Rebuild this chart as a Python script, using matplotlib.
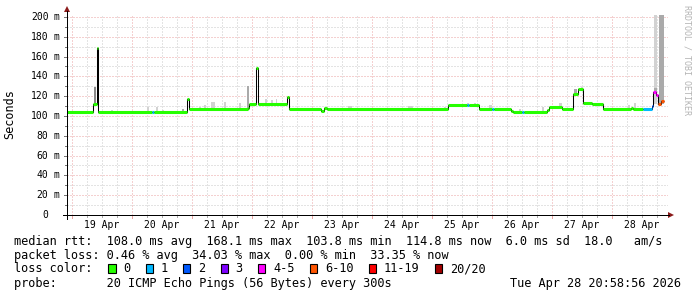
import numpy as np
import matplotlib
matplotlib.use("Agg")
import matplotlib.pyplot as plt
from matplotlib.lines import Line2D
from matplotlib.patches import Polygon, Rectangle

W, H = 697, 297

# median rtt as steps; hours counted from 19 Apr 00:00
seg_start = [-2.0, 8.5, 9.8, 10.5, 31.9, 32.6, 46.1, 46.8, 70.3, 70.8, 73.5, 74.5,
             85.9, 86.8, 99.6, 100.8, 102.0, 150.4, 158.0, 158.8, 162.8, 168.0, 168.8,
             175.6, 176.5, 180.0, 180.8, 189.9, 190.8, 195.9, 200.5, 202.5, 204.5,
             207.9, 212.5, 223.6, 224.4, 228.5, 231.9, 232.5, 233.6, 234.4, 235.6]
seg_last_end = 236.6
median_ms = [103.7, 112.0, 168.2, 103.7, 103.7, 103.7, 117.0, 106.8, 108.4, 111.8, 148.0, 111.8,
             118.9, 106.8, 105.0, 108.4, 106.8, 111.1, 111.1, 111.1, 106.8, 106.8, 106.8,
             105.0, 103.7, 103.7, 103.7, 106.0, 108.8, 106.8, 121.9, 127.3, 112.8,
             111.8, 106.8, 108.4, 106.8, 106.8, 110.0, 124.0, 121.0, 112.0, 115.5]
lost_pings = [0, 0, 0, 0, 1, 0, 0, 0, 0, 0, 0, 0,
              0, 0, 0, 0, 0, 0, 1, 0, 0, 1, 0,
              0, 0, 1, 0, 0, 0, 0, 0, 0, 0,
              0, 0, 0, 0, 1, 2, 4, 4, 7, 7]

# smoke (spread of the pings)
smoke_t0 = [8.8, 70.0, 15.7, 23.7, 30.1, 33.7, 36.1, 38.9, 44.1, 50.9, 52.9, 55.7, 60.9, 66.9,
            77.3, 79.7, 81.6, 110.4, 134.4, 148.8, 158.0, 160.8, 166.8, 178.8, 187.8, 194.8,
            200.8, 203.4, 222.4, 224.8, 232.7, 234.8, 232.7]
smoke_t1 = [9.7, 70.9, 16.3, 24.3, 30.7, 34.3, 36.7, 39.5, 44.7, 51.5, 53.5, 57.1, 61.5, 67.5,
            78.1, 80.3, 82.1, 112.0, 136.4, 149.6, 158.8, 161.6, 168.0, 179.6, 188.6, 195.9,
            202.0, 204.2, 223.2, 225.6, 234.1, 236.8, 234.1]
smoke_lo = [112, 108, 104, 104, 104, 104, 104, 104, 104, 107, 107, 107, 107, 107,
            112, 112, 112, 107, 107, 107, 111, 111, 107, 104, 104, 109,
            122, 127, 107, 107, 112, 112, 122]
smoke_hi = [129.6, 130, 106, 105.5, 109, 109.4, 106, 105.5, 107, 109, 111, 114.5, 114.5, 113,
            117, 116, 117, 110, 110, 109, 113.4, 113.4, 111, 107, 109.4, 113.4,
            127, 129, 111, 112.8, 210, 210, 128]
smoke_level = [2, 1, 0, 0, 0, 0, 0, 0, 1, 0, 0, 0, 0, 0,
               0, 0, 0, 0, 0, 0, 0, 0, 0, 0, 0, 0,
               1, 0, 0, 0, 0, 1, 1]
smoke_greys = ["#d2d2d2", "#aaaaaa", "#8a8a8a"]

day_labels = ["19 Apr", "20 Apr", "21 Apr", "22 Apr", "23 Apr",
              "24 Apr", "25 Apr", "26 Apr", "27 Apr", "28 Apr"]
y_ticks = [0, 20, 40, 60, 80, 100, 120, 140, 160, 180, 200]

loss_labels = ["0", "1", "2", "3", "4-5", "6-10", "11-19", "20/20"]
loss_upper = [0, 1, 2, 3, 5, 10, 19, 20]
loss_colors = ["#26ff00", "#00b8ff", "#0059ff", "#7e00ff",
               "#ff00ff", "#ff5500", "#ff0000", "#a10000"]

line_rtt = "median rtt:  108.0 ms avg  168.1 ms max  103.8 ms min  114.8 ms now  6.0 ms sd  18.0   am/s"
line_loss = "packet loss: 0.46 % avg  34.03 % max  0.00 % min  33.35 % now"
line_probe = "probe:       20 ICMP Echo Pings (56 Bytes) every 300s"
stamp = "Tue Apr 28 20:58:56 2026"

MONO = "DejaVu Sans Mono"
RED_GRID = "#eba3a3"
GREY_GRID = "#c8c8c8"


def fx(x):
    return x / W


def fy(y):
    return 1 - y / H


def loss_color(n):
    for up, c in zip(loss_upper, loss_colors):
        if n <= up:
            return c
    return loss_colors[-1]


fig = plt.figure(figsize=(W / 100, H / 100), dpi=100)
fig.patch.set_facecolor("white")

# canvas: 67..668 px wide, 15..215 px tall
ax = fig.add_axes([fx(67), fy(215), 601 / W, 200 / H])
ax.set_xlim(-2, 238.4)
ax.set_ylim(0, 202)
for s in ax.spines.values():
    s.set_visible(False)
ax.set_xticks([])
ax.set_yticks([])

# dotted grid
dot = (0, (1, 2))
for h in np.arange(0, 238, 6):
    c = RED_GRID if h % 24 == 0 else GREY_GRID
    ax.axvline(h, color=c, lw=0.72, ls=dot, zorder=0, snap=True)
for v in range(10, 201, 10):
    c = RED_GRID if v % 20 == 0 else GREY_GRID
    ax.axhline(v, color=c, lw=0.72, ls=dot, zorder=0, snap=True)

# smoke
for t0, t1, lo, hi, lv in zip(smoke_t0, smoke_t1, smoke_lo, smoke_hi, smoke_level):
    ax.bar(t0, hi - lo, width=t1 - t0, bottom=lo, align="edge",
           color=smoke_greys[lv], linewidth=0, zorder=1)

# median line: thin black steps, thick loss-coloured pieces on top
edges = seg_start + [seg_last_end]
ax.stairs(median_ms, edges, baseline=None, color="black", lw=0.75, zorder=2)
ax.hlines(median_ms, edges[:-1], edges[1:],
          colors=[loss_color(n) for n in lost_pings], lw=2.2, zorder=3)

# small ticks outside the canvas
ytr = ax.get_yaxis_transform()
for v in range(10, 201, 10):
    ln = 3 if v % 20 == 0 else 2
    ax.plot([-ln / 601, 0], [v, v], transform=ytr, color="#777777", lw=0.72,
            clip_on=False, snap=True)
xtr = ax.get_xaxis_transform()
for h in np.arange(0, 238, 6):
    ln = 3 if h % 24 == 0 else 2
    c = RED_GRID if h % 24 == 0 else "#aaaaaa"
    ax.plot([h, h], [0, -ln / 200], transform=xtr, color=c, lw=0.72,
            clip_on=False, snap=True)

for i, lab in enumerate(day_labels):
    ax.text(12 + 24 * i, -9.5 / 200, lab, transform=xtr, ha="center", va="center",
            family=MONO, size=7)

for v in y_ticks:
    ypx = 215 - v * 200 / 202
    fig.text(fx(48.5), fy(ypx), str(v), ha="right", va="center", family=MONO, size=7)
    if v:
        fig.text(fx(54), fy(ypx), "m", ha="left", va="center", family=MONO, size=7)

# axes with arrows
arrow_c = "#8b1a1a"
fig.add_artist(Line2D([fx(63), fx(669)], [fy(215), fy(215)], transform=fig.transFigure,
                      color="black", lw=0.72, snap=True))
fig.add_artist(Line2D([fx(67), fx(67)], [fy(219), fy(11)], transform=fig.transFigure,
                      color="black", lw=0.72, snap=True))
fig.add_artist(Polygon([(fx(668), fy(212)), (fx(668), fy(218)), (fx(674), fy(215))],
                       closed=True, transform=fig.transFigure, color=arrow_c, lw=0))
fig.add_artist(Polygon([(fx(64), fy(12)), (fx(70), fy(12)), (fx(67), fy(6))],
                       closed=True, transform=fig.transFigure, color=arrow_c, lw=0))

fig.text(fx(10), fy(114), "Seconds", rotation=90, ha="center", va="center",
         family=MONO, size=8.5)
fig.text(fx(687), fy(60), "RRDTOOL / TOBI OETIKER", rotation=270, ha="center", va="center",
         family=MONO, size=6, color="#b4b4b4")

# legend
cw = 7.14
x0 = 14.5
fig.text(fx(x0), fy(241), line_rtt, ha="left", va="center", family=MONO, size=8.55)
fig.text(fx(x0), fy(255), line_loss, ha="left", va="center", family=MONO, size=8.55)
fig.text(fx(x0), fy(269), "loss color:", ha="left", va="center", family=MONO, size=8.55)
fig.text(fx(x0), fy(283), line_probe, ha="left", va="center", family=MONO, size=8.55)
fig.text(fx(681), fy(283), stamp, ha="right", va="center", family=MONO, size=8.55)

bx = 108.3
for lab, col in zip(loss_labels, loss_colors):
    fig.add_artist(Rectangle((fx(bx), fy(272.5)), 7.3 / W, 8.5 / H, transform=fig.transFigure,
                             facecolor=col, edgecolor="black", lw=0.8))
    tx = bx + 15
    fig.text(fx(tx), fy(269), lab, ha="left", va="center", family=MONO, size=8.55)
    bx = tx + len(lab) * cw + 15.3

fig.savefig("out.png", dpi=100, facecolor="white")
